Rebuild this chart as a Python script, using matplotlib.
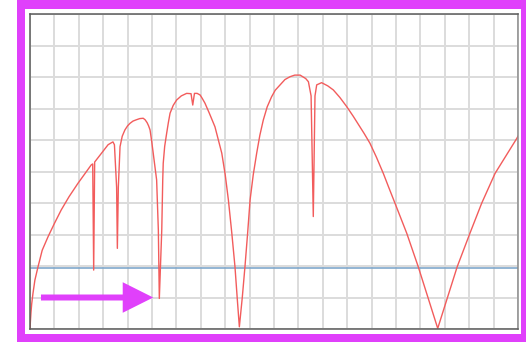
import matplotlib.pyplot as plt
from matplotlib.patches import Rectangle, FancyArrow

# curve (grid units: x 0..20, y 0..10)
x_pts = [0.00, 0.02, 0.04, 0.07, 0.12, 0.20, 0.33, 0.50, 0.74, 1.00, 1.28, 1.60, 1.97, 2.25, 2.51, 2.57,
         2.61, 2.65, 2.80, 3.00, 3.20, 3.33, 3.40, 3.46, 3.55,
         3.58, 3.62, 3.69, 3.78, 3.89, 4.00, 4.10, 4.22, 4.35, 4.50, 4.64, 4.72, 4.80, 4.86,
         4.92, 4.98, 5.05, 5.19, 5.26,
         5.30, 5.40, 5.44, 5.46, 5.52, 5.60, 5.67, 5.74, 5.87, 6.01, 6.20, 6.42, 6.60,
         6.67, 6.74, 6.85, 6.97, 7.06, 7.17, 7.35, 7.58, 7.72, 7.86, 8.00, 8.13, 8.27, 8.40, 8.50,
         8.58, 8.70, 8.81, 8.92, 9.02, 9.15, 9.29, 9.42, 9.56, 9.72, 9.90, 10.05, 10.25, 10.45,
         10.66, 10.85, 11.07, 11.30, 11.41, 11.52,
         11.61, 11.68, 11.75, 11.95, 12.20, 12.43, 12.70, 12.98, 13.25, 13.52, 13.70, 13.93,
         14.20, 14.48, 14.70, 14.96, 15.44, 15.91,
         16.71, 17.51, 18.03, 18.51, 19.06, 19.95, 20.00]
y_pts = [0.00, 0.28, 0.52, 0.80, 1.12, 1.55, 1.98, 2.50, 2.93, 3.35, 3.78, 4.20, 4.63, 4.93, 5.21, 5.24,
         1.87, 5.30, 5.45, 5.65, 5.85, 5.91, 5.94, 5.85, 4.50,
         2.56, 4.50, 5.79, 6.12, 6.32, 6.45, 6.53, 6.60, 6.64, 6.68, 6.69, 6.64, 6.55, 6.45,
         6.32, 6.00, 5.58, 4.73, 3.14,
         0.97, 3.14, 4.73, 5.26, 5.80, 6.21, 6.55, 6.85, 7.10, 7.27, 7.40, 7.48, 7.47,
         7.11, 7.48, 7.48, 7.43, 7.32, 7.17, 6.85, 6.42, 6.00, 5.58, 4.90, 4.10, 3.05, 1.98, 0.90,
         0.07, 1.00, 1.98, 3.05, 4.10, 4.90, 5.58, 6.15, 6.63, 7.05, 7.37, 7.58, 7.75, 7.92,
         8.01, 8.06, 8.06, 7.95, 7.85, 7.40,
         3.57, 7.40, 7.75, 7.82, 7.72, 7.59, 7.35, 7.06, 6.75, 6.42, 6.20, 5.90,
         5.45, 4.94, 4.50, 3.99, 3.04, 1.98,
         0.02, 1.98, 3.04, 3.99, 4.94, 6.05, 6.12]
level = 1.95
arrow_from = 0.45
arrow_to = 5.05
arrow_y = 1.0

W, H = 526, 342
fig = plt.figure(figsize=(W / 100, H / 100), dpi=100)
magenta = '#e040fb'

# magenta frame
for (x0, y0, w, h) in [(17, 0, 7.5, 342), (17, 0, 509, 8.5), (17, 334, 509, 8), (521, 0, 5, 342)]:
    fig.patches.append(Rectangle((x0 / W, 1 - (y0 + h) / H), w / W, h / H,
                                 transform=fig.transFigure, color=magenta, lw=0))

ax = fig.add_axes([30 / W, (H - 329) / H, 488 / W, 315 / H])
ax.set_xlim(0, 20)
ax.set_ylim(0, 10)
ax.set_xticks(range(21))
ax.set_yticks(range(11))
ax.tick_params(length=0, labelbottom=False, labelleft=False)
ax.grid(True, color='#dcdcdc', lw=1.4)
ax.set_axisbelow(True)
for s in ax.spines.values():
    s.set_color('#5a5a5a')
    s.set_linewidth(1.1)
ax.spines['right'].set_color('#8a8a8a')

ax.axhline(level, color='#80a8cc', lw=1.2)
ax.plot(x_pts, y_pts, color='#f25c5c', lw=1.0)

ax.add_patch(FancyArrow(arrow_from, arrow_y, arrow_to - arrow_from, 0,
                        width=0.19, head_width=0.97, head_length=1.25,
                        length_includes_head=True, color=magenta, lw=0, zorder=5))

fig.savefig('out.png', dpi=100)
